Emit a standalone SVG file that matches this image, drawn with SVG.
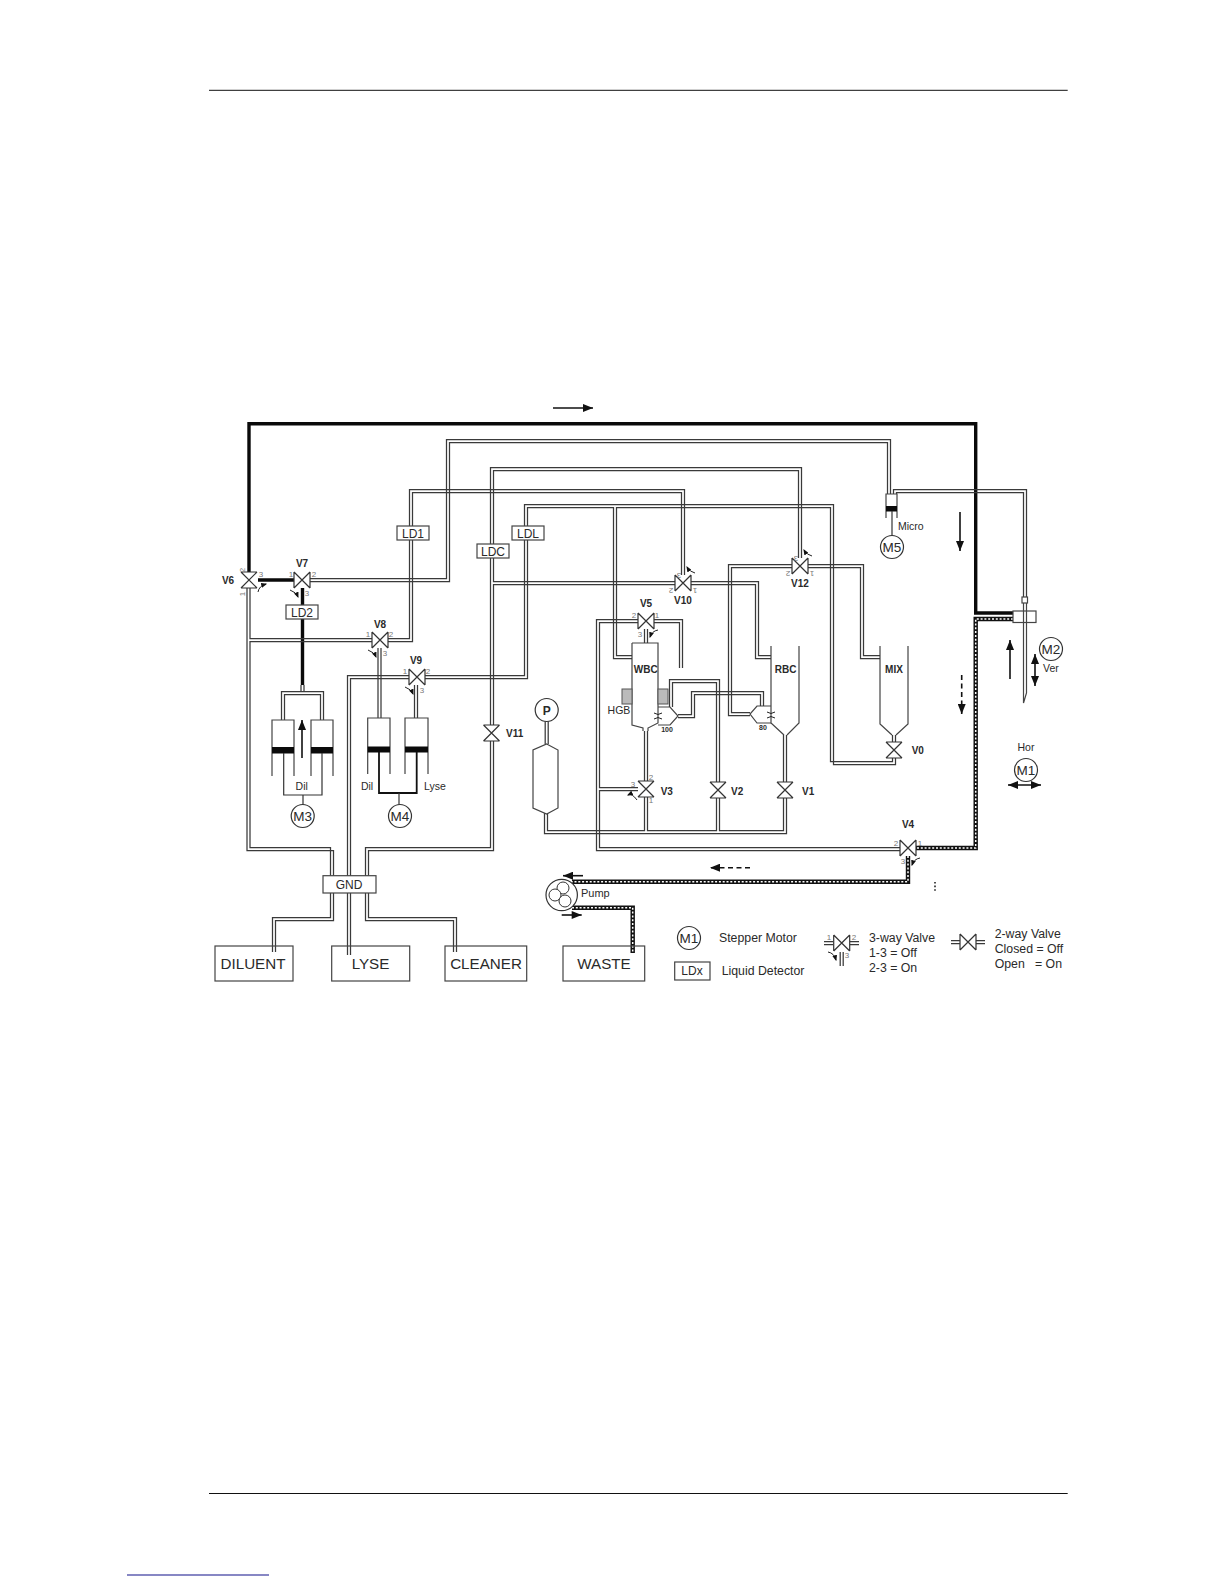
<svg xmlns="http://www.w3.org/2000/svg" width="1224" height="1584" viewBox="0 0 1224 1584">
<style>
text{font-family:"Liberation Sans",Arial,sans-serif;fill:#2a2a2a}
.p{fill:none;stroke:#3a3a3a;stroke-width:1.25}
.s{fill:none;stroke:#333;stroke-width:1.2}
.box{fill:#fff;stroke:#444;stroke-width:1.2}
.tank{fill:none;stroke:#444;stroke-width:1.2}
.thick{fill:none;stroke:#0a0a0a;stroke-width:3.4}
.dotB{fill:none;stroke:#111;stroke-width:4.4}
.dotW{fill:none;stroke:#fff;stroke-width:1.5;stroke-dasharray:2 1.8}
.vb{font-size:10px;font-weight:bold;text-anchor:middle}
.vs{font-size:10px;font-weight:bold}
.n{font-size:8px;fill:#777;text-anchor:middle}
.m{font-size:13.5px;text-anchor:middle}
.ld{font-size:12px;text-anchor:middle}
.big{font-size:15.2px;text-anchor:middle}
.lab{font-size:10.5px;text-anchor:middle}
.leg{font-size:12.3px}
.mot{fill:#fff;stroke:#333;stroke-width:1.2}
.arrow{fill:none;stroke:#111;stroke-width:1.6}
.dash{stroke-dasharray:5 3.5}
.ca{fill:none;stroke:#222;stroke-width:1}
.pist{fill:#0a0a0a}
</style>
<defs>
<marker id="ah" viewBox="0 0 10 8" refX="10" refY="4" markerWidth="12" markerHeight="8" markerUnits="userSpaceOnUse" orient="auto-start-reverse"><path d="M0 0L10 4L0 8Z" fill="#111"/></marker>
<marker id="sh" viewBox="0 0 10 8" refX="8" refY="4" markerWidth="6" markerHeight="5" markerUnits="userSpaceOnUse" orient="auto"><path d="M0 0L10 4L0 8Z" fill="#111"/></marker>
<g id="vH"><path d="M-8 -8V8M8 -8V8M-8 -8L8 8M-8 8L8 -8" fill="none" stroke="#333" stroke-width="1.2"/></g>
<g id="vV"><path d="M-8 -8H8M-8 8H8M-8 -8L8 8M-8 8L8 -8" fill="none" stroke="#333" stroke-width="1.2"/></g>
</defs>
<rect width="1224" height="1584" fill="#fff"/>
<path d="M209 90.300H1067.700M209 1493.500H1067.700" stroke="#111" stroke-width="1" fill="none"/>
<path d="M127 1575H269" stroke="#10108a" stroke-width="1.200" fill="none"/>

<g id="tanks">
<path class="tank" d="M632 643H658V723L648 728V731M632 643V725L643 728V731"/>
<path class="tank" d="M771 646V723L784 735M799 646V723L787 735"/>
<path class="tank" d="M880 646V724L892 735M908 646V724L896 735"/>
<path class="tank" d="M658 707H670L678 716L670 725H658"/>
<path class="tank" d="M771 706H757L750 714L757 723H771"/>
<rect x="622" y="689" width="10" height="15" fill="#bbb" stroke="#555"/>
<rect x="658" y="689" width="10" height="15" fill="#bbb" stroke="#555"/>
<path class="ca" d="M654 713Q658 716 662 713M654 719Q658 716 662 719M767 712Q771 715 775 712M767 718Q771 715 775 718"/>
</g>

<g id="connectors">
<path class="thick" d="M249 572V423.700H975.700V613H1013"/>
<path class="thick" d="M258 580H294M302.500 588V685"/>
<path class="p" d="M301 685V691.500M304 685V691.500"/>
<path class="p" d="M310 578.500H446.500V439.500H890.500V494M310 581.500H449.500V442.500H887.500V494"/>
<path class="p" d="M893.500 494V489.500H1026.500V597M896.500 494V492.500H1023.500V597"/>
<path class="p" d="M801.500 558V467.500H490.500V725M798.500 558V470.500H493.500V581.500H675M675 584.500H493.500V725"/>
<path class="p" d="M493.500 741V850.500H368.500V876M490.500 741V847.500H365.500V876"/>
<path class="p" d="M365.500 893V920.500H453.500V952M368.500 893V917.500H456.500V952"/>
<path class="p" d="M691 581.500H758.500V655.500H771M691 584.500H755.500V658.500H771"/>
<path class="p" d="M388 641.500H412.500V492.500H681.500V575M388 638.500H409.500V489.500H684.500V575"/>
<path class="p" d="M247 588V850.500H333.500V876M250 588V638.500H372M372 641.500H250V847.500H330.500V876"/>
<path class="p" d="M333.500 893V920.500H275.500V952M330.500 893V917.500H272.500V952"/>
<path class="p" d="M409 675.500H347.500V955M409 678.500H350.500V955"/>
<path class="p" d="M425 675.500H524.500V504.500H833.500V764.500H895.500V758M425 678.500H527.500V507.500H613.500V658.500H632M632 655.500H616.500V507.500H830.500V761.500H892.500V758"/>
<path class="p" d="M638 619.500H596.500V850.500H900M638 622.500H599.500V787.500H638M638 790.500H599.500V847.500H900"/>
<path class="p" d="M654 619.500H682.500V668M654 622.500H679.500V668"/>
<path class="p" d="M644.500 629V643M647.500 629V643M644.500 731V781M647.500 731V781"/>
<path class="p" d="M544.500 813V833.500H786.500V798M547.500 813V830.500H644.500V797M647.500 797V830.500H716.500V798M719.500 798V830.500H783.500V798"/>
<path class="p" d="M719.500 782V679.500H669.500V707M716.500 782V682.500H672.500V707"/>
<path class="p" d="M678 714.500H691.500V691.500H763.500V706M678 717.500H694.500V694.500H760.500V706"/>
<path class="p" d="M783.500 782V735M786.500 782V735"/>
<path class="p" d="M750 715.500H728.500V564.500H792M750 712.500H731.500V567.500H792"/>
<path class="p" d="M808 564.500H863.500V655.500H880M808 567.500H860.500V658.500H880"/>
<path class="p" d="M545.200 721V744M548.200 721V744"/>
<path class="p" d="M281.500 720V691.500H323.500V720M284.500 720V694.500H320.500V720"/>
<path class="p" d="M378 648V718M381 648V718M414.500 685V718M417.500 685V718M892.500 735V742M895.500 735V742"/>
<path class="dotB" d="M1013 619H975.700V848H916"/>
<path class="dotW" d="M1013 619H975.700V848H916"/>
<path class="dotB" d="M908 856V881.700H572"/>
<path class="dotW" d="M908 856V881.700H572"/>
<path class="dotB" d="M572 907.700H632.700V953"/>
<path class="dotW" d="M572 907.700H632.700V953"/>
<path d="M935 882V892" stroke="#222" stroke-width="1.600" stroke-dasharray="1.600 2" fill="none"/>
</g>

<g id="flow-arrows">
<path class="arrow" d="M553 408H593" marker-end="url(#ah)"/>
<path class="arrow" d="M960 512V551" marker-end="url(#ah)"/>
<path class="arrow" d="M1010 679V640" marker-end="url(#ah)"/>
<path class="arrow dash" d="M961.700 675V714" marker-end="url(#ah)"/>
<path class="arrow dash" d="M750 867.700H710" marker-end="url(#ah)"/>
<path class="arrow" d="M583 875.700H563" marker-end="url(#ah)"/>
<path class="arrow" d="M561.700 915H581.700" marker-end="url(#ah)"/>
<path class="arrow" d="M1035 654V686" marker-start="url(#ah)" marker-end="url(#ah)"/>
<path class="arrow" d="M1008 785H1041" marker-start="url(#ah)" marker-end="url(#ah)"/>
<path class="arrow" d="M302 758V720" stroke-width="2" marker-end="url(#ah)"/>
</g>

<g id="V6"><use href="#vV" x="249" y="580"/><text class="vb" x="228" y="583.500">V6</text><text class="n" transform="translate(245 570) rotate(-90)">2</text><text class="n" x="261" y="577">3</text><text class="n" transform="translate(245 594) rotate(-90)">1</text><path class="ca" d="M258 592Q259 586 266 584" marker-end="url(#sh)"/></g>
<g id="V7"><use href="#vH" x="302" y="580"/><text class="vb" x="302" y="567">V7</text><text class="n" x="291" y="577">1</text><text class="n" x="314" y="577">2</text><text class="n" x="307" y="596">3</text><path class="ca" d="M290 590Q296 592 298 597" marker-end="url(#sh)"/></g>
<g id="V8"><use href="#vH" x="380" y="640"/><text class="vb" x="380" y="628">V8</text><text class="n" x="368" y="637">1</text><text class="n" x="391" y="637">2</text><text class="n" x="385" y="656">3</text><path class="ca" d="M368 650Q374 652 376 657" marker-end="url(#sh)"/></g>
<g id="V9"><use href="#vH" x="417" y="677"/><text class="vb" x="416" y="664">V9</text><text class="n" x="405" y="674">1</text><text class="n" x="428" y="674">2</text><text class="n" x="422" y="693">3</text><path class="ca" d="M405 687Q411 689 413 694" marker-end="url(#sh)"/></g>
<g id="V10"><use href="#vH" x="683" y="583"/><text class="vb" x="683" y="603.500">V10</text><text class="n" transform="translate(679 573) rotate(180)">3</text><text class="n" transform="translate(671 588) rotate(180)">2</text><text class="n" transform="translate(695 588) rotate(180)">1</text><path class="ca" d="M695 573Q690 572 687 567" marker-end="url(#sh)"/></g>
<g id="V12"><use href="#vH" x="800" y="566"/><text class="vb" x="800" y="586.500">V12</text><text class="n" transform="translate(796 556) rotate(180)">3</text><text class="n" transform="translate(788 571) rotate(180)">2</text><text class="n" transform="translate(812 571) rotate(180)">1</text><path class="ca" d="M812 556Q807 555 804 550" marker-end="url(#sh)"/></g>
<g id="V5"><use href="#vH" x="646" y="621"/><text class="vb" x="646" y="607">V5</text><text class="n" x="634" y="618">2</text><text class="n" x="657" y="618">1</text><text class="n" x="640" y="637">3</text><path class="ca" d="M658 630Q652 631 650 637" marker-end="url(#sh)"/></g>
<g id="V3"><use href="#vV" x="646" y="789"/><text class="vs" x="660.700" y="795">V3</text><text class="n" x="651" y="780">2</text><text class="n" x="633" y="787">3</text><text class="n" x="651" y="803">1</text><path class="ca" d="M637 800Q632 793 628 795" marker-end="url(#sh)"/></g>
<g id="V2"><use href="#vV" x="718" y="790"/><text class="vs" x="731" y="795">V2</text></g>
<g id="V1"><use href="#vV" x="785" y="790"/><text class="vs" x="802" y="795">V1</text></g>
<g id="V11"><use href="#vV" x="491.500" y="733"/><text class="vs" x="506" y="737">V11</text></g>
<g id="V0"><use href="#vV" x="894" y="750"/><text class="vs" x="911.700" y="753.500">V0</text></g>
<g id="V4"><use href="#vH" x="908" y="848"/><text class="vb" x="908" y="828">V4</text><text class="n" x="896" y="846">2</text><text class="n" x="920" y="846">1</text><text class="n" x="903" y="864">3</text><path class="ca" d="M920 858Q914 859 912 865" marker-end="url(#sh)"/></g>

<g id="LD1"><rect class="box" x="397" y="526" width="32" height="14"/><text class="ld" x="413" y="537.500">LD1</text></g>
<g id="LD2"><rect class="box" x="286" y="605" width="32" height="14"/><text class="ld" x="302" y="616.500">LD2</text></g>
<g id="LDC"><rect class="box" x="477" y="544" width="32" height="14"/><text class="ld" x="493" y="555.500">LDC</text></g>
<g id="LDL"><rect class="box" x="512" y="526" width="32" height="14"/><text class="ld" x="528" y="537.500">LDL</text></g>
<g id="GND"><rect class="box" x="323" y="875.700" width="53" height="17.300"/><text class="ld" x="349" y="889">GND</text></g>

<g id="DILUENT"><rect class="tank" x="215" y="946" width="78" height="35"/><text class="big" x="253" y="968.500">DILUENT</text></g>
<g id="LYSE"><rect class="tank" x="331.700" y="946" width="78" height="35"/><text class="big" x="370.500" y="968.500">LYSE</text></g>
<g id="CLEANER"><rect class="tank" x="445" y="946" width="81.700" height="35"/><text class="big" x="486" y="968.500">CLEANER</text></g>
<g id="WASTE"><rect class="tank" x="563" y="946" width="81.700" height="35"/><text class="big" x="604" y="968.500">WASTE</text></g>

<g id="WBC"><text class="vb" x="645.700" y="673">WBC</text><text class="lab" x="619" y="714">HGB</text><text x="667" y="732" style="font-size:7px;font-weight:bold;text-anchor:middle">100</text></g>
<g id="RBC"><text class="vb" x="785.700" y="673">RBC</text><text x="763" y="730" style="font-size:7px;font-weight:bold;text-anchor:middle">80</text></g>
<g id="MIX"><text class="vb" x="894" y="673">MIX</text></g>

<g id="P"><circle class="mot" cx="546.700" cy="710" r="11.500"/><text x="546.700" y="714.500" style="font-size:12px;font-weight:bold;text-anchor:middle">P</text><path class="tank" d="M546.700 744L558 750V808L546.700 814L533 808V750Z"/></g>

<g id="Dil-syringe">
<path class="tank" d="M272 776V720H294V776M311 776V720H333V776"/>
<rect class="pist" x="272" y="747" width="22" height="6.500"/><rect class="pist" x="311" y="747" width="22" height="6.500"/>
<path class="s" d="M283.700 753V795H322V753M303 795V805"/>
<text class="lab" x="301.700" y="790">Dil</text>
</g>
<g id="M3"><circle class="mot" cx="302.700" cy="816" r="11.500"/><text class="m" x="302.700" y="821">M3</text></g>
<g id="Lyse-syringe">
<path class="tank" d="M367.700 774V718H390V774M405 774V718H428V774"/>
<rect class="pist" x="367.700" y="746.500" width="22.300" height="6"/><rect class="pist" x="405" y="746.500" width="23" height="6"/>
<path d="M379 752V793H416.700V752" fill="none" stroke="#111" stroke-width="1.800"/><path class="s" d="M399 793V805"/>
<text class="lab" x="367" y="790">Dil</text><text class="lab" x="435" y="790">Lyse</text>
</g>
<g id="M4"><circle class="mot" cx="400" cy="816" r="11.500"/><text class="m" x="400" y="821">M4</text></g>

<g id="Micro">
<path class="tank" d="M886 518V494H897V518"/><rect class="pist" x="886" y="506" width="11" height="5.500"/>
<path class="s" d="M892 511V536"/><text x="898" y="530" style="font-size:10.500px">Micro</text>
</g>
<g id="M5"><circle class="mot" cx="892" cy="547" r="11.500"/><text class="m" x="892" y="552">M5</text></g>

<g id="probe">
<rect class="box" x="1013" y="611" width="23" height="11.500"/>
<rect class="box" x="1022" y="597" width="5.500" height="6"/>
<path class="tank" d="M1023.500 603V703L1026.500 693V603"/>
</g>
<g id="M2"><circle class="mot" cx="1051" cy="649" r="11.500"/><text class="m" x="1051" y="654">M2</text><text class="lab" x="1051" y="672">Ver</text></g>
<g id="M1"><circle class="mot" cx="1026" cy="770" r="11.500"/><text class="m" x="1026" y="775">M1</text><text class="lab" x="1026" y="751">Hor</text></g>

<g id="Pump">
<circle cx="561.700" cy="895" r="15.700" fill="#fff" stroke="#333" stroke-width="1.200"/>
<circle cx="563" cy="888" r="6" fill="#fff" stroke="#333"/><circle cx="555" cy="895" r="6" fill="#fff" stroke="#333"/><circle cx="565" cy="901" r="6" fill="#fff" stroke="#333"/>
<text x="581" y="897" style="font-size:11px">Pump</text>
</g>

<g id="legend">
<circle class="mot" cx="689" cy="938" r="11.500"/><text class="m" x="689" y="943">M1</text>
<text class="leg" x="719" y="942">Stepper Motor</text>
<rect class="box" x="674.700" y="962" width="35.300" height="18"/><text class="ld" x="692" y="975">LDx</text>
<text class="leg" x="721.700" y="975">Liquid Detector</text>
<use href="#vH" x="841.700" y="943"/>
<path class="p" d="M824 941.500H833M824 944.500H833M850 941.500H859M850 944.500H859M840.200 952V966M843.200 952V966"/>
<text class="n" x="829" y="940">1</text><text class="n" x="854" y="940">2</text><text class="n" x="847" y="958">3</text>
<path class="ca" d="M828 952Q834 953 836 960" marker-end="url(#sh)"/>
<text class="leg" x="869" y="941.700">3-way Valve</text><text class="leg" x="869" y="956.500">1-3 = Off</text><text class="leg" x="869" y="971.700">2-3 = On</text>
<use href="#vH" x="968" y="942"/>
<path class="p" d="M951 940.500H960M951 943.500H960M976 940.500H985M976 943.500H985"/>
<text class="leg" x="994.700" y="938">2-way Valve</text><text class="leg" x="994.700" y="953">Closed = Off</text><text class="leg" x="994.700" y="968" xml:space="preserve">Open   = On</text>
</g>
</svg>
